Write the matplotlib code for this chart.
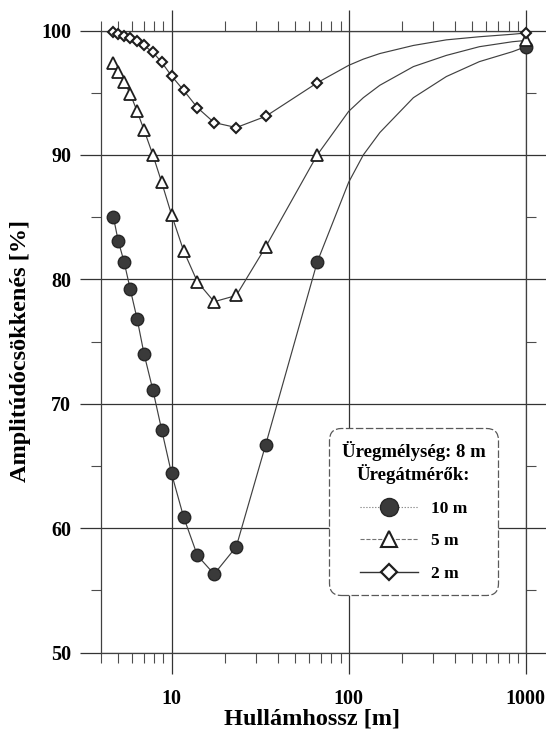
import numpy as np
import matplotlib
matplotlib.use("Agg")
from matplotlib import pyplot as plt
from matplotlib.lines import Line2D
from matplotlib.ticker import NullFormatter

plt.rcParams['font.family'] = ['Liberation Serif', 'DejaVu Serif']
plt.rcParams['font.weight'] = 'bold'
plt.rcParams['axes.labelweight'] = 'bold'

# hullámhossz [m] - közös mérési pontok
hossz = [4.7, 5.0, 5.4, 5.85, 6.4, 7.0, 7.85, 8.8, 10.0, 11.7, 14.0, 17.4, 23.2, 34.0, 66.5, 1000]

# amplitúdócsökkenés [%], üregátmérő szerint
d10 = [85.0, 83.1, 81.4, 79.2, 76.8, 74.0, 71.1, 67.9, 64.4, 60.9, 57.8, 56.3, 58.5, 66.7, 81.4, 98.7]
d5 = [97.4, 96.7, 95.9, 94.9, 93.5, 92.0, 90.0, 87.8, 85.2, 82.3, 79.8, 78.2, 78.7, 82.6, 90.0, 99.2]
d2 = [99.85, 99.75, 99.6, 99.4, 99.15, 98.8, 98.25, 97.45, 96.35, 95.2, 93.8, 92.6, 92.2, 93.1, 95.8, 99.8]

# a görbék 66 m és 1000 m közötti része (képről leolvasva)
gorbe_x = [100, 121, 150, 232, 356, 547, 841]
g10 = [87.8, 90.0, 91.8, 94.6, 96.3, 97.5, 98.3]
g5 = [93.5, 94.6, 95.6, 97.1, 98.0, 98.7, 99.1]
g2 = [97.2, 97.7, 98.15, 98.8, 99.25, 99.5, 99.7]

cimkek = ['10 m', '5 m', '2 m']

fig = plt.figure(figsize=(5.46, 7.32), dpi=100)
ax = fig.add_axes([0.185, 0.1086, 0.778, 0.8497])
ax.set_xscale('log')

vonal_x = hossz[:-1] + gorbe_x + [hossz[-1]]
for d, g in [(d10, g10), (d5, g5), (d2, g2)]:
    ax.plot(vonal_x, d[:-1] + g + [d[-1]], color='0.25', lw=0.85, zorder=3)

ax.plot(hossz, d10, ls='none', marker='o', ms=9, mfc='#3a3a3a', mec='#262626', mew=1, zorder=4, clip_on=False)
ax.plot(hossz, d5, ls='none', marker='^', ms=8, mfc='white', mec='#1e1e1e', mew=1.3, zorder=5, clip_on=False)
ax.plot(hossz, d2, ls='none', marker='D', ms=5.2, mfc='white', mec='#1e1e1e', mew=1.5, zorder=6, clip_on=False)

ax.set_xlim(4, 1000)
ax.set_ylim(50, 100)
ax.set_yticks([50, 60, 70, 80, 90, 100])
ax.set_yticks([55, 65, 75, 85, 95], minor=True)
ax.set_xticks([10, 100, 1000])
ax.set_xticklabels(['10', '100', '1000'])
ax.xaxis.set_minor_formatter(NullFormatter())

ax.tick_params(which='major', direction='out', length=15, width=0.9, color='0.2',
               top=True, right=True, labelsize=14.5)
ax.tick_params(which='minor', direction='out', length=7.5, width=0.8, color='0.3',
               top=True, right=True)
ax.tick_params(axis='y', pad=6.5)
ax.tick_params(axis='x', pad=11.5)
for s in ax.spines.values():
    s.set_color('0.25')
    s.set_linewidth(0.9)

ax.grid(True, which='major', color='0.2', lw=0.9)
ax.set_axisbelow(True)

ax.set_xlabel('Hullámhossz [m]', fontsize=17.5, fontweight='bold')
ax.set_ylabel('Amplitúdócsökkenés [%]', fontsize=17.5, fontweight='bold')
ax.xaxis.set_label_coords(0.496, -0.09)
ax.yaxis.set_label_coords(-0.165, 0.485)

kezelok = [
    Line2D([], [], color='0.45', lw=0.8, ls=':', marker='o', ms=13, mfc='#3a3a3a', mec='#262626'),
    Line2D([], [], color='0.45', lw=0.8, ls='--', marker='^', ms=12, mfc='white', mec='#1e1e1e', mew=1.5),
    Line2D([], [], color='0.2', lw=1.0, ls='-', marker='D', ms=8.5, mfc='white', mec='#1e1e1e', mew=1.6),
]
leg = ax.legend(kezelok, cimkek, title='Üregmélység: 8 m\nÜregátmérők:',
                loc='upper left', bbox_to_anchor=(0.536, 0.361), borderaxespad=0,
                fontsize=12.5, title_fontsize=13.5, handlelength=3.3, handletextpad=0.75,
                labelspacing=0.95, borderpad=0.75, fancybox=True, framealpha=1,
                edgecolor='0.35')
leg.get_title().set_multialignment('center')
leg.get_frame().set_boxstyle('round', pad=0, rounding_size=0.7)
leg.get_frame().set_linewidth(0.9)
leg.get_frame().set_linestyle((0, (6, 2)))
leg.set_zorder(10)

plt.savefig('out.png', dpi=100)
